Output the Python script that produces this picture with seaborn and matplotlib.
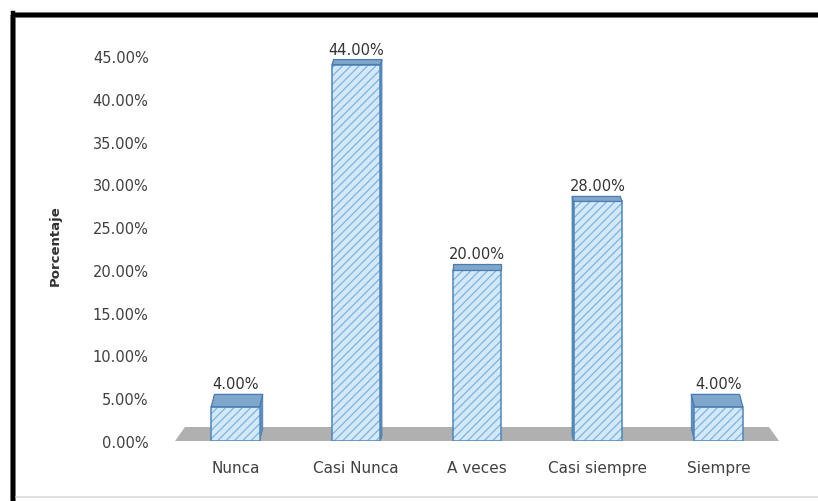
import matplotlib
matplotlib.use("Agg")
import matplotlib.pyplot as plt
import seaborn as sns
import pandas as pd
from matplotlib.patches import Polygon, Rectangle
from matplotlib.lines import Line2D
from matplotlib.ticker import FixedLocator, FuncFormatter

# Datos
categorias = ["Nunca", "Casi Nunca", "A veces", "Casi siempre", "Siempre"]
porcentajes = [4.0, 44.0, 20.0, 28.0, 4.0]
marcas_y = [0, 5, 10, 15, 20, 25, 30, 35, 40, 45]

sns.set_theme(style="white")
plt.rcParams["font.family"] = ["DejaVu Sans"]
plt.rcParams["hatch.linewidth"] = 0.9

W, H = 818, 502
fig = plt.figure(figsize=(W / 100, H / 100), dpi=100)
fig.patch.set_facecolor("white")
ax = fig.add_axes([175 / W, 60 / H, 604 / W, 385 / H])
ax.set_facecolor("none")

# Columnas con rayado diagonal (el color del borde define el rayado)
df = pd.DataFrame({"Respuesta": categorias, "Porcentaje": porcentajes})
sns.barplot(data=df, x="Respuesta", y="Porcentaje", ax=ax, width=0.4,
            color="#d3e9fa", saturation=1, edgecolor="#7fb3e0",
            linewidth=0, hatch="////", zorder=3, errorbar=None)

ax.set_xlim(-0.5, 4.5)
ax.set_ylim(0, 45)
sns.despine(ax=ax, left=True, bottom=True)
ax.yaxis.set_major_locator(FixedLocator(marcas_y))
ax.yaxis.set_major_formatter(FuncFormatter(lambda v, _: f"{v:.2f}%"))
ax.tick_params(axis="y", length=0, pad=19, labelsize=10.5, labelcolor="#404040")
ax.tick_params(axis="x", length=0, pad=14, labelsize=11, labelcolor="#404040")
ax.grid(False)
ax.set_xlabel("")
ax.set_ylabel("Porcentaje", fontsize=9.5, fontweight="bold", color="#303030")
ax.yaxis.set_label_coords(-0.187, 0.51)

to_px = ax.transData.transform
to_data = ax.transData.inverted().transform


def poly_px(points_px, **kw):
    pts = to_data(points_px)
    p = Polygon(pts, closed=True, **kw)
    ax.add_patch(p)
    return p


# Piso gris en perspectiva
x0, y0 = to_px((-0.5, 0))
x1, _ = to_px((4.5, 0))
poly_px([(x0, y0), (x1, y0), (x1 - 10, y0 + 14), (x0 + 10, y0 + 14)],
        facecolor="#b0b0b0", edgecolor="none", zorder=1, clip_on=False)

bars = list(ax.patches[:len(categorias)])
# Caras superiores, laterales, contornos y etiquetas de cada columna
for i, bar in enumerate(bars):
    v = bar.get_height()
    ax.add_patch(Rectangle((bar.get_x(), 0), bar.get_width(), v,
                           facecolor="none", edgecolor="#4f86ba",
                           linewidth=1.1, zorder=3.5))
    bx0, by = to_px((bar.get_x(), v))
    bx1, _ = to_px((bar.get_x() + bar.get_width(), v))
    _, base = to_px((0, 0))
    dy = max(5.0, 14.0 - 0.4 * v)
    dx = -1.6 * (i - 2)
    poly_px([(bx0, by), (bx1, by), (bx1 + dx, by + dy), (bx0 + dx, by + dy)],
            facecolor="#7fa7cc", edgecolor="#4a7cae", linewidth=0.9,
            zorder=4, clip_on=False)
    if dx > 0:
        poly_px([(bx1, by), (bx1 + dx, by + dy), (bx1 + dx, base + dy), (bx1, base)],
                facecolor="#5f8fbd", edgecolor="#4a7cae", linewidth=0.6,
                zorder=2, clip_on=False)
    elif dx < 0:
        poly_px([(bx0, by), (bx0 + dx, by + dy), (bx0 + dx, base + dy), (bx0, base)],
                facecolor="#5f8fbd", edgecolor="#4a7cae", linewidth=0.6,
                zorder=2, clip_on=False)
    ax.annotate(f"{v:.2f}%", xy=(bar.get_x() + bar.get_width() / 2, v),
                xytext=(0, (dy + 3) * 0.72), textcoords="offset points",
                ha="center", va="bottom", fontsize=10.5, color="#333333",
                zorder=5, annotation_clip=False)

# Marco exterior
def fig_line(xs, ys, **kw):
    fig.add_artist(Line2D([x / W for x in xs], [1 - y / H for y in ys],
                          transform=fig.transFigure, **kw))

fig_line([12.5, 12.5], [16, H], color="#999999", linewidth=4.3, solid_capstyle="butt")
fig_line([12.5, W], [16, 16], color="#999999", linewidth=4.3, solid_capstyle="butt")
fig_line([12.5, 12.5], [14, H], color="black", linewidth=3.2, solid_capstyle="projecting")
fig_line([12.5, W], [16, 16], color="black", linewidth=3.2, solid_capstyle="butt")
fig_line([16, W], [498, 498], color="#dcdcdc", linewidth=1.2)

fig.savefig("out.png", dpi=100, facecolor="white")
